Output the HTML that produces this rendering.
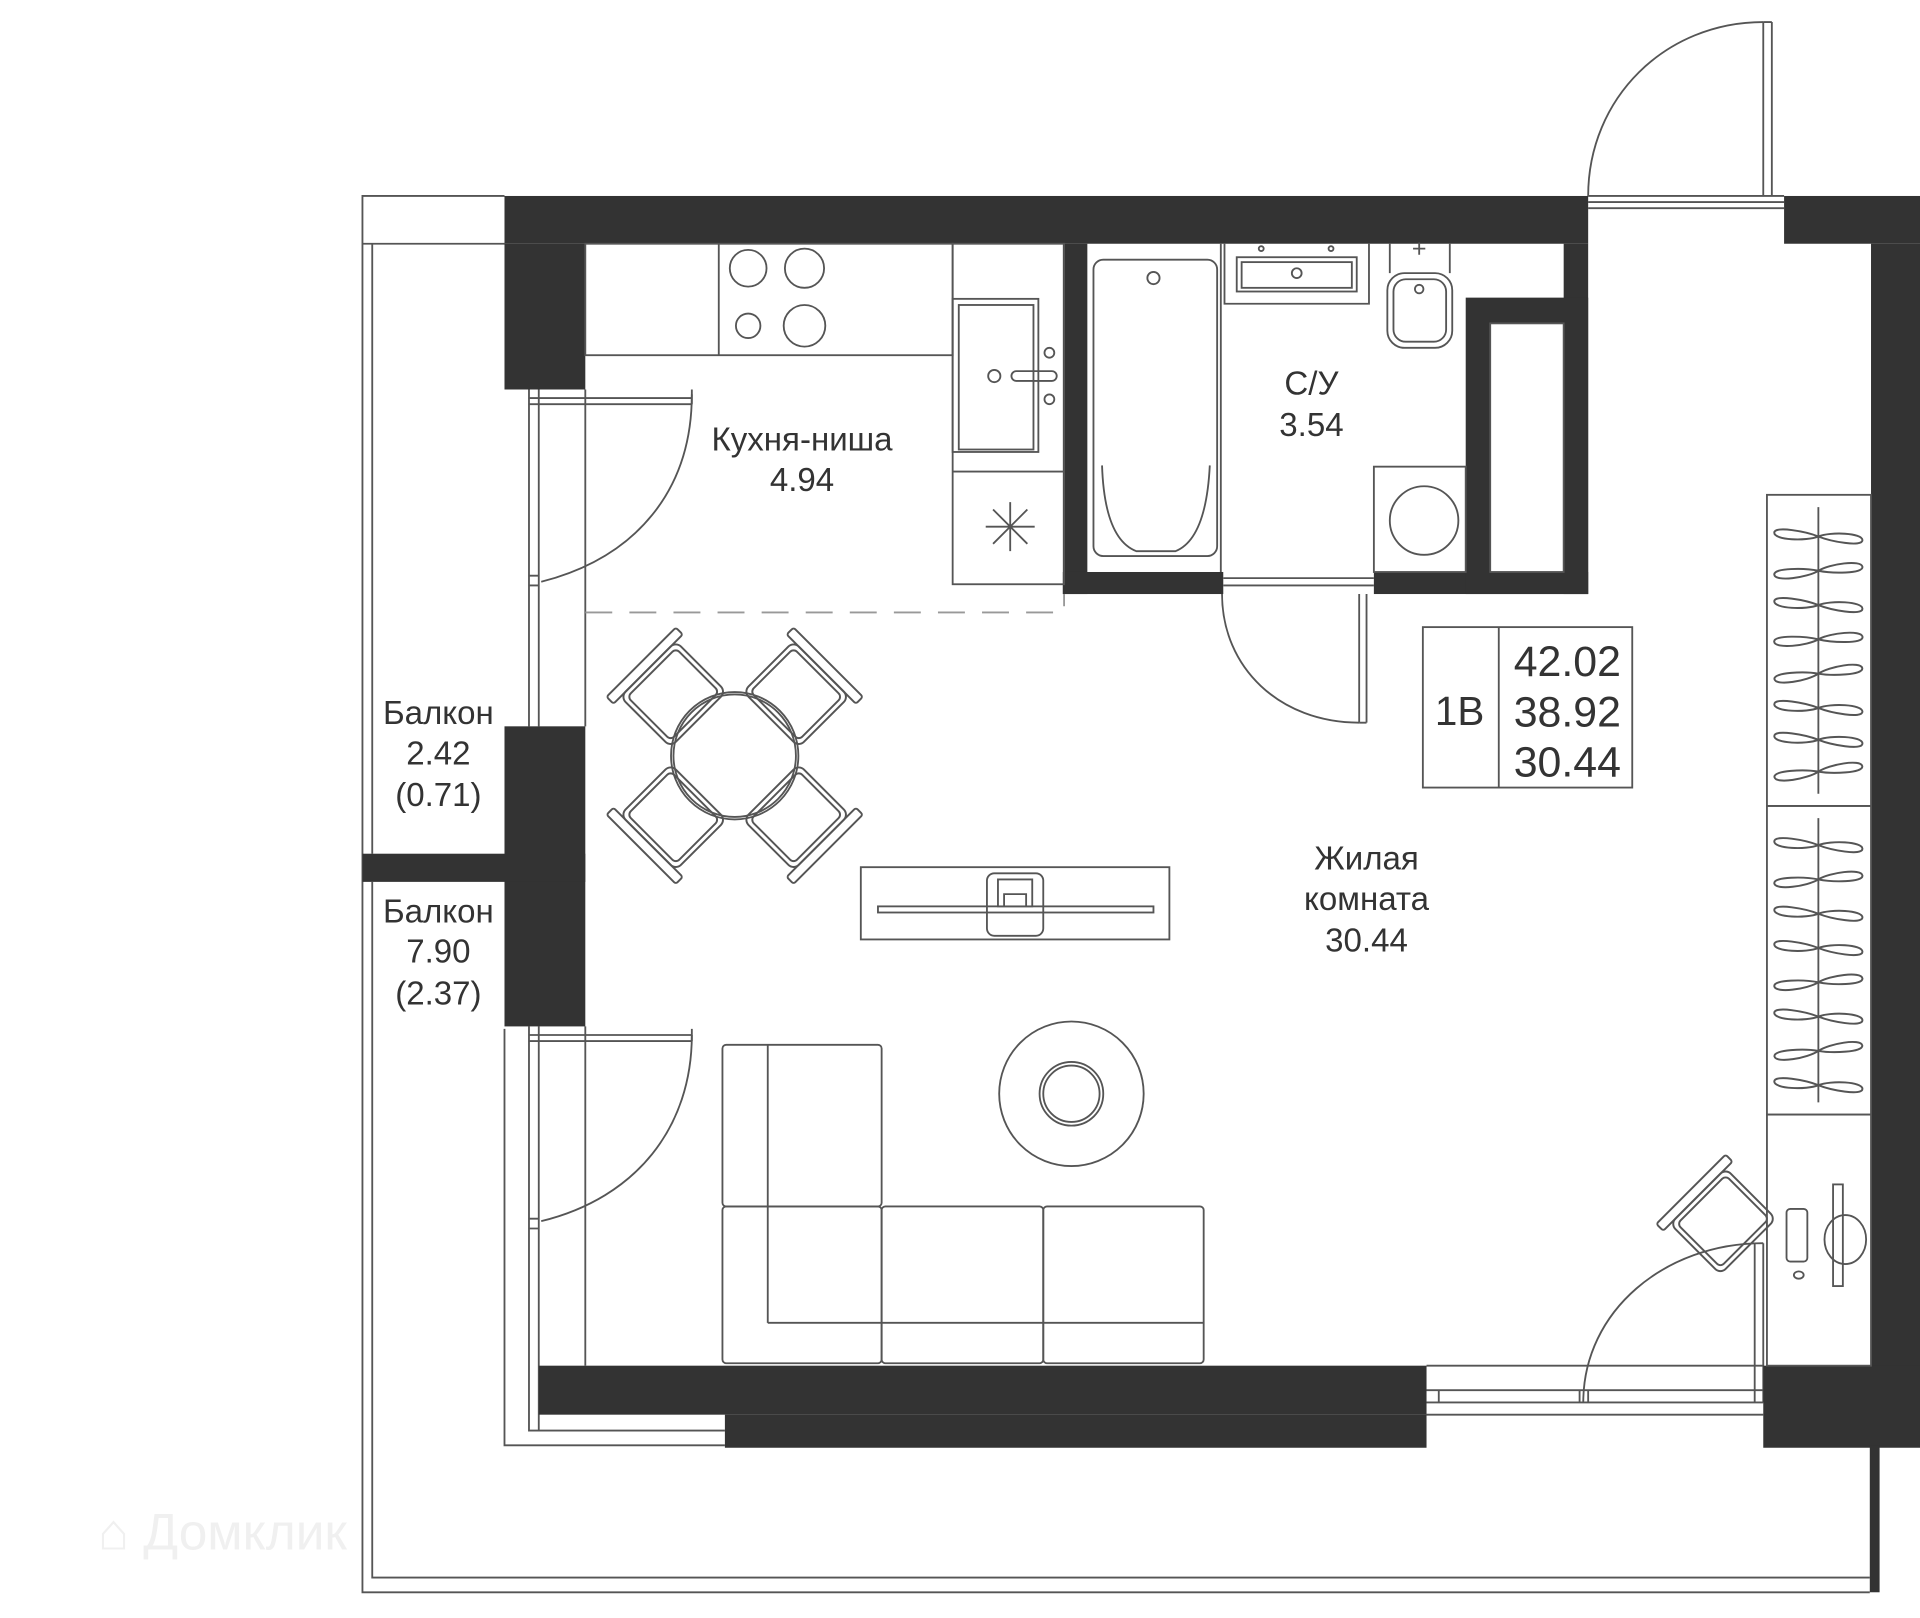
<!DOCTYPE html>
<html><head><meta charset="utf-8"><style>
html,body{margin:0;padding:0;background:#fff;}
svg{display:block;}
text{font-family:"Liberation Sans","DejaVu Sans",sans-serif;fill:#333;}
</style></head><body>
<svg width="1920" height="1618" viewBox="0 0 1568 1321" preserveAspectRatio="none" xmlns="http://www.w3.org/2000/svg">
<defs>
<g id="hg"><path d="M-36,-3 C-36,-9 -10,-4 0,0 C10,4 36,9 36,3 C36,-3 10,-4 0,0 C-10,4 -36,3 -36,-3Z" fill="none" stroke="#555" stroke-width="1.6"/></g>
<g id="ch" fill="none" stroke="#555" stroke-width="1.6">
<rect x="-32" y="-32" width="64" height="58" rx="6"/>
<rect x="-28" y="-28" width="56" height="50" rx="4"/>
<rect x="-40" y="26" width="80" height="8" rx="2"/>
</g>
</defs>
<text x="80" y="1265" font-size="42" style="fill:#f0f0f0">⌂ Домклик</text>
<g fill="none" stroke="#555" stroke-width="1.5">
<path d="M412,160 H296 V1300 H1527"/>
<path d="M296,199 H412"/>
<path d="M304,199 V697 M304,720 V1288 H1527"/>
<path d="M412,840 V1180 H592"/>
<path d="M432,318 V593 M440,318 V593 M478,318 V593"/>
<path d="M432,325 H565 M432,330 H565 M565,318 V330"/>
<path d="M432,470 H440 M432,478 H440"/>
<path d="M565,322 C565,400 520,455 442,475"/>
<path d="M432,838 V1115 M440,838 V1168 M478,838 V1115 M432,1115 V1168 H592"/>
<path d="M432,845 H565 M565,840 V850 M432,850 H565"/>
<path d="M432,995 H440 M432,1003 H440"/>
<path d="M565,845 C565,920 520,978 442,997"/>
<path d="M1165,1115 H1440 M1165,1135 H1440 M1165,1145 H1440 M1165,1155 H1440"/>
<path d="M1290,1135 V1145 M1297,1135 V1145 M1175,1135 V1145"/>
<path d="M1433,1015 V1145 M1440,1015 V1145"/>
<path d="M1293,1145 C1293,1070 1360,1015 1440,1015"/>
<path d="M1297,160 H1457 M1297,165 H1457 M1297,170 H1457"/>
<path d="M1440,18 V160 M1447,18 V160 M1440,18 H1447"/>
<path d="M1297,160 C1297,80 1360,18 1440,18"/>
</g>
<g fill="#333">
<rect x="412" y="160" width="885" height="39"/>
<rect x="412" y="199" width="66" height="119"/>
<rect x="412" y="593" width="66" height="245"/>
<rect x="296" y="697" width="182" height="23"/>
<rect x="868" y="199" width="20" height="286"/>
<rect x="868" y="467" width="131" height="18"/>
<rect x="1122" y="467" width="175" height="18"/>
<rect x="1277" y="199" width="20" height="286"/>
<rect x="1197" y="243" width="100" height="242"/>
<rect x="1457" y="160" width="111" height="39"/>
<rect x="1528" y="199" width="40" height="981"/>
<rect x="440" y="1115" width="725" height="40"/>
<rect x="592" y="1155" width="573" height="27"/>
<rect x="1440" y="1115" width="128" height="67"/>
<rect x="1527" y="1180" width="8" height="120"/>
</g>
<rect x="1217" y="264" width="60" height="203" fill="#fff"/>
<g fill="none" stroke="#555" stroke-width="1.5">
<rect x="1217" y="264" width="60" height="203"/>
<rect x="478" y="199" width="300" height="91"/>
<path d="M587,199 V290"/>
<circle cx="611" cy="219" r="15"/><circle cx="657" cy="219" r="16"/>
<circle cx="611" cy="266" r="10"/><circle cx="657" cy="266" r="17"/>
<rect x="778" y="199" width="91" height="278"/>
<rect x="778" y="244" width="70" height="125"/>
<rect x="783" y="249" width="61" height="118"/>
<path d="M778,385 H869"/>
<circle cx="812" cy="307" r="5"/><circle cx="857" cy="288" r="4"/><circle cx="857" cy="326" r="4"/>
<rect x="826" y="303" width="37" height="8" rx="4"/>
<path d="M825,410 V450 M805,430 H845 M811,416 L839,444 M839,416 L811,444"/>
<path d="M478,500 H869 V485" stroke-dasharray="22,14" stroke="#999"/>
<!-- bathroom -->
<rect x="893" y="212" width="101" height="242" rx="8"/>
<path d="M900,380 Q902,440 928,450 H960 Q985,440 988,380"/>
<circle cx="942" cy="227" r="5"/>
<path d="M997,199 V467"/>
<path d="M1000,199 V248 H1118 V199"/>
<rect x="1010" y="210" width="98" height="28"/>
<rect x="1014" y="214" width="90" height="21"/>
<circle cx="1059" cy="223" r="4"/><circle cx="1030" cy="203" r="2"/><circle cx="1087" cy="203" r="2"/>
<path d="M1135,199 V223 M1184,199 V223"/>
<rect x="1133" y="223" width="53" height="61" rx="14"/>
<rect x="1138" y="228" width="43" height="51" rx="10"/>
<circle cx="1159" cy="236" r="3.5"/>
<path d="M1154,253 H1164 M1159,248 V258" transform="translate(0,-50)"/>
<rect x="1122" y="381" width="75" height="86"/>
<circle cx="1163" cy="425" r="28"/>
<path d="M999,472 H1122 M999,478 H1122"/>
<path d="M1110,485 V590 M1116,485 V590 M1110,590 H1116"/>
<path d="M998,485 C998,545 1045,590 1110,590"/>
<rect x="1162" y="512" width="171" height="131"/>
<path d="M1224,512 V643"/>
<rect x="1443" y="404" width="85" height="254"/>
<rect x="1443" y="658" width="85" height="252"/>
<path d="M1485,414 V648 M1485,668 V900"/>
<rect x="1443" y="910" width="85" height="205"/>
<rect x="1459" y="987" width="17" height="43" rx="3"/>
<ellipse cx="1469" cy="1041" rx="4" ry="3"/>
<rect x="1497" y="967" width="8" height="83"/>
<ellipse cx="1507" cy="1012" rx="17" ry="20"/>
<g transform="translate(1405,995) rotate(135)"><use href="#ch"/></g>
<circle cx="600" cy="617" r="52"/><circle cx="600" cy="617" r="50"/>
<rect x="703" y="708" width="252" height="59"/>
<rect x="806" y="713" width="46" height="51" rx="6"/>
<path d="M815,718 H843 V740 H815Z M820,740 V730 H838 V740"/>
<rect x="717" y="740" width="225" height="5"/>
<circle cx="875" cy="893" r="59"/><circle cx="875" cy="893" r="26"/><circle cx="875" cy="893" r="23"/>
<rect x="590" y="853" width="130" height="132" rx="3"/>
<path d="M627,853 V1080"/>
<rect x="590" y="985" width="130" height="128" rx="3"/>
<rect x="720" y="985" width="132" height="128" rx="3"/>
<rect x="852" y="985" width="131" height="128" rx="3"/>
<path d="M627,1080 H983"/>
</g>
<g transform="translate(600,617)">
<g transform="rotate(-45) translate(0,-74) rotate(180)"><use href="#ch"/></g>
<g transform="rotate(45) translate(0,-74) rotate(180)"><use href="#ch"/></g>
<g transform="rotate(135) translate(0,-74) rotate(180)"><use href="#ch"/></g>
<g transform="rotate(-135) translate(0,-74) rotate(180)"><use href="#ch"/></g>
</g>
<g>
<use href="#hg" transform="translate(1485,438) rotate(0)"/>
<use href="#hg" transform="translate(1485,466) rotate(-10)"/>
<use href="#hg" transform="translate(1485,494) rotate(0)"/>
<use href="#hg" transform="translate(1485,522) rotate(-8)"/>
<use href="#hg" transform="translate(1485,550) rotate(-12)"/>
<use href="#hg" transform="translate(1485,578) rotate(0)"/>
<use href="#hg" transform="translate(1485,604) rotate(0)"/>
<use href="#hg" transform="translate(1485,630) rotate(-12)"/>
<use href="#hg" transform="translate(1485,690) rotate(0)"/>
<use href="#hg" transform="translate(1485,718) rotate(-10)"/>
<use href="#hg" transform="translate(1485,746) rotate(0)"/>
<use href="#hg" transform="translate(1485,774) rotate(0)"/>
<use href="#hg" transform="translate(1485,802) rotate(-10)"/>
<use href="#hg" transform="translate(1485,830) rotate(0)"/>
<use href="#hg" transform="translate(1485,858) rotate(-12)"/>
<use href="#hg" transform="translate(1485,886) rotate(0)"/>
</g>
<g text-anchor="middle" font-size="27">
<text x="655" y="368">Кухня-ниша</text>
<text x="655" y="401">4.94</text>
<text x="1071" y="322">С/У</text>
<text x="1071" y="356">3.54</text>
<text x="1116" y="710">Жилая</text>
<text x="1116" y="743">комната</text>
<text x="1116" y="777">30.44</text>
<text x="358" y="591">Балкон</text>
<text x="358" y="624">2.42</text>
<text x="358" y="658">(0.71)</text>
<text x="358" y="753">Балкон</text>
<text x="358" y="786">7.90</text>
<text x="358" y="820">(2.37)</text>
<text x="1192" y="592" font-size="33">1В</text>
<text x="1280" y="552" font-size="35">42.02</text>
<text x="1280" y="593" font-size="35">38.92</text>
<text x="1280" y="634" font-size="35">30.44</text>
</g>
</svg>
</body></html>
